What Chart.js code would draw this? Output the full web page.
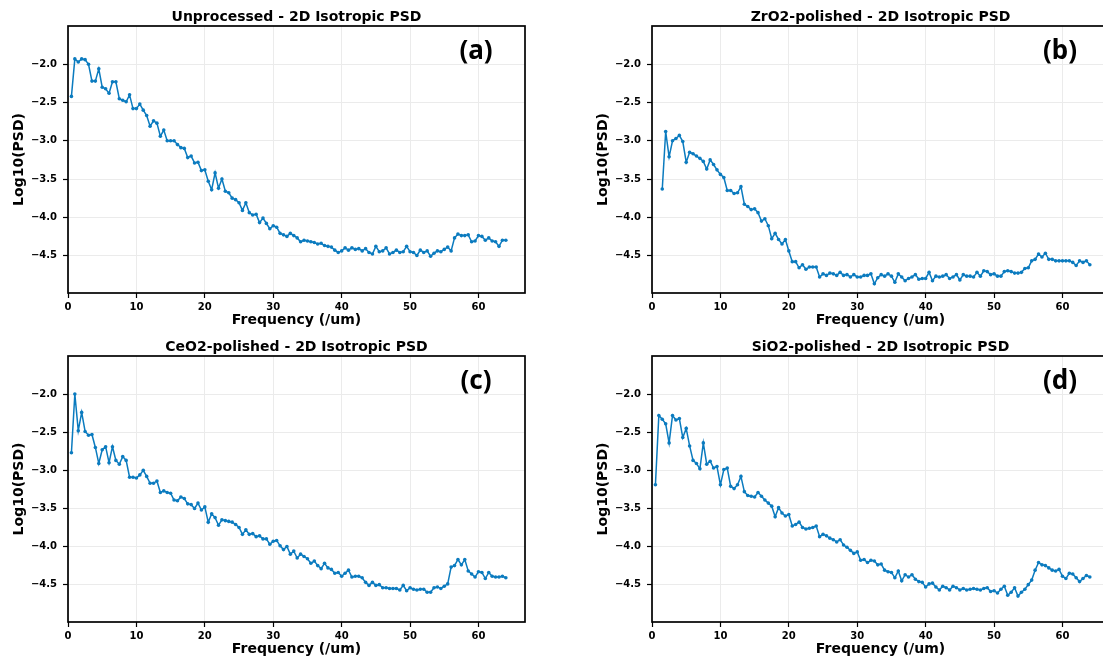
<!DOCTYPE html>
<html>
<head>
<meta charset="utf-8">
<script src="https://cdn.jsdelivr.net/npm/chart.js@4.4.0/dist/chart.umd.min.js"></script>
<style>
  html, body { margin: 0; padding: 0; background: #fff; width: 1103px; height: 661px; overflow: hidden; position: relative; }
  canvas { position: absolute; }
</style>
</head>
<body>
<canvas id="pa" width="560" height="335" style="left:0px;top:0px"></canvas>
<canvas id="pb" width="560" height="335" style="left:584px;top:0px"></canvas>
<canvas id="pc" width="560" height="331" style="left:0px;top:330px"></canvas>
<canvas id="pd" width="560" height="331" style="left:584px;top:330px"></canvas>
<script>
// spatial frequency (/um)
const freq = [
  0.5, 1.0, 1.5, 2.0, 2.5, 3.0, 3.5, 4.0, 4.5, 5.0, 5.5, 6.0, 6.5, 7.0, 7.5, 8.0,
  8.5, 9.0, 9.5, 10.0, 10.5, 11.0, 11.5, 12.0, 12.5, 13.0, 13.5, 14.0, 14.5, 15.0, 15.5, 16.0,
  16.5, 17.0, 17.5, 18.0, 18.5, 19.0, 19.5, 20.0, 20.5, 21.0, 21.5, 22.0, 22.5, 23.0, 23.5, 24.0,
  24.5, 25.0, 25.5, 26.0, 26.5, 27.0, 27.5, 28.0, 28.5, 29.0, 29.5, 30.0, 30.5, 31.0, 31.5, 32.0,
  32.5, 33.0, 33.5, 34.0, 34.5, 35.0, 35.5, 36.0, 36.5, 37.0, 37.5, 38.0, 38.5, 39.0, 39.5, 40.0,
  40.5, 41.0, 41.5, 42.0, 42.5, 43.0, 43.5, 44.0, 44.5, 45.0, 45.5, 46.0, 46.5, 47.0, 47.5, 48.0,
  48.5, 49.0, 49.5, 50.0, 50.5, 51.0, 51.5, 52.0, 52.5, 53.0, 53.5, 54.0, 54.5, 55.0, 55.5, 56.0,
  56.5, 57.0, 57.5, 58.0, 58.5, 59.0, 59.5, 60.0, 60.5, 61.0, 61.5, 62.0, 62.5, 63.0, 63.5, 64.0
];

// log10(PSD) per sample
const psdUnprocessed = [
  -2.42, -1.93, -1.97, -1.93, -1.94, -2.00, -2.22, -2.22, -2.06, -2.30,
  -2.32, -2.38, -2.23, -2.23, -2.45, -2.47, -2.49, -2.40, -2.58, -2.58,
  -2.52, -2.60, -2.67, -2.81, -2.74, -2.77, -2.94, -2.86, -3.00, -3.00,
  -3.00, -3.05, -3.09, -3.10, -3.22, -3.20, -3.29, -3.28, -3.39, -3.38,
  -3.53, -3.64, -3.42, -3.62, -3.50, -3.66, -3.68, -3.75, -3.77, -3.81,
  -3.91, -3.81, -3.94, -3.97, -3.96, -4.07, -4.01, -4.08, -4.15, -4.11,
  -4.13,
  -4.21, -4.23, -4.25, -4.21, -4.24, -4.27, -4.32, -4.30, -4.31, -4.32,
  -4.33, -4.35, -4.34, -4.37, -4.38, -4.39, -4.43, -4.46, -4.44, -4.40,
  -4.43, -4.40, -4.42, -4.41, -4.44, -4.41, -4.46, -4.48, -4.38, -4.45,
  -4.44, -4.40, -4.48, -4.46, -4.43, -4.46, -4.45, -4.38, -4.45, -4.46,
  -4.50, -4.43, -4.46, -4.44, -4.51, -4.47, -4.44, -4.45, -4.42, -4.39,
  -4.44, -4.27, -4.22, -4.24, -4.24, -4.23, -4.32, -4.31, -4.24, -4.25,
  -4.30, -4.27, -4.31, -4.32, -4.38, -4.30, -4.30
];
const psdZrO2 = [
  null, null,
  -3.63, -2.88, -3.21, -3.00, -2.97, -2.93, -3.01, -3.28, -3.15, -3.17,
  -3.20, -3.23, -3.27, -3.37, -3.25, -3.31, -3.38, -3.44, -3.48, -3.65,
  -3.65, -3.69, -3.68, -3.60, -3.83, -3.86, -3.90, -3.89, -3.94, -4.05,
  -4.02, -4.11, -4.28, -4.21, -4.29, -4.35, -4.29, -4.44, -4.58, -4.58,
  -4.66, -4.62, -4.68, -4.65, -4.65, -4.65, -4.78, -4.74, -4.76, -4.73,
  -4.74, -4.76, -4.72, -4.76, -4.75, -4.78, -4.75, -4.78, -4.78, -4.76,
  -4.76, -4.74, -4.87, -4.79,
  -4.75, -4.77, -4.74, -4.77, -4.85, -4.74, -4.78, -4.83, -4.80, -4.78,
  -4.75, -4.81, -4.80, -4.80, -4.72, -4.83, -4.77, -4.78, -4.77, -4.75,
  -4.80, -4.78, -4.75, -4.82, -4.75, -4.77, -4.77, -4.78, -4.72, -4.77,
  -4.70, -4.71, -4.75, -4.74, -4.77, -4.77, -4.71, -4.70, -4.71, -4.73,
  -4.73, -4.72, -4.67, -4.66, -4.57, -4.55, -4.48, -4.52, -4.47, -4.55,
  -4.55, -4.57, -4.57, -4.57, -4.57, -4.57, -4.59, -4.63, -4.57, -4.59,
  -4.57, -4.62
];
const psdCeO2 = [
  -2.77, -2.00, -2.48, -2.24, -2.49, -2.54, -2.53, -2.70, -2.91, -2.73,
  -2.69, -2.90, -2.69, -2.87, -2.92, -2.82, -2.87, -3.09, -3.09, -3.10,
  -3.06, -3.00, -3.08, -3.17, -3.17, -3.14, -3.29, -3.27, -3.29, -3.30,
  -3.39, -3.40, -3.35, -3.37, -3.44, -3.45, -3.50, -3.43, -3.52, -3.48,
  -3.68, -3.57, -3.62, -3.72, -3.65, -3.66, -3.67, -3.68, -3.71, -3.75,
  -3.84, -3.78, -3.84, -3.83, -3.87, -3.86, -3.90, -3.90, -3.97, -3.93,
  -3.92, -3.99, -4.04, -4.00, -4.10, -4.06, -4.15, -4.10,
  -4.13, -4.16, -4.22, -4.19, -4.25, -4.29, -4.22, -4.28, -4.30, -4.35,
  -4.34, -4.39, -4.35, -4.31, -4.40, -4.39, -4.39, -4.41, -4.47, -4.51,
  -4.47, -4.51, -4.50, -4.54, -4.54, -4.55, -4.55, -4.55, -4.57, -4.51,
  -4.58, -4.54, -4.56, -4.57, -4.56, -4.56, -4.60, -4.60, -4.54, -4.53,
  -4.55, -4.52, -4.49, -4.27, -4.25, -4.17, -4.24, -4.17, -4.32, -4.36,
  -4.40, -4.33, -4.34, -4.42, -4.34, -4.39, -4.40, -4.40, -4.39, -4.41
];
const psdSiO2 = [
  -3.19, -2.28, -2.33, -2.39, -2.64, -2.28, -2.34, -2.32, -2.57, -2.45,
  -2.68, -2.87, -2.91, -2.98, -2.64, -2.92, -2.88, -2.97, -2.95, -3.19,
  -2.99, -2.97, -3.21, -3.24, -3.19, -3.08, -3.28, -3.33, -3.34, -3.35,
  -3.29, -3.34, -3.39, -3.43, -3.47, -3.61, -3.49, -3.56, -3.60, -3.58,
  -3.73, -3.71, -3.68, -3.75, -3.77, -3.76, -3.75, -3.73, -3.87, -3.84,
  -3.86, -3.89, -3.91, -3.94, -3.91, -3.98, -4.01, -4.05, -4.09, -4.07,
  -4.18, -4.17, -4.21, -4.18, -4.19, -4.24,
  -4.23, -4.31, -4.33, -4.34, -4.41, -4.32, -4.45, -4.37, -4.40, -4.37,
  -4.43, -4.46, -4.47, -4.53, -4.49, -4.48, -4.53, -4.57, -4.52, -4.54,
  -4.57, -4.52, -4.54, -4.57, -4.55, -4.57, -4.56, -4.55, -4.56, -4.57,
  -4.55, -4.54, -4.59, -4.58, -4.61, -4.56, -4.52, -4.64, -4.60, -4.54,
  -4.65, -4.60, -4.56, -4.50, -4.44, -4.31, -4.21, -4.24, -4.25, -4.28,
  -4.31, -4.32, -4.30, -4.39, -4.42, -4.35, -4.36, -4.41, -4.46, -4.42,
  -4.38, -4.40
];

const xTicks = [0, 10, 20, 30, 40, 50, 60];
const yTicks = [-4.5, -4.0, -3.5, -3.0, -2.5, -2.0];

const panels = [
  { id: 'pa', title: 'Unprocessed - 2D Isotropic PSD', tag: '(a)', values: psdUnprocessed, xAxisH: 42, xTitlePad: 6 },
  { id: 'pb', title: 'ZrO2-polished - 2D Isotropic PSD', tag: '(b)', values: psdZrO2, xAxisH: 42, xTitlePad: 6 },
  { id: 'pc', title: 'CeO2-polished - 2D Isotropic PSD', tag: '(c)', values: psdCeO2, xAxisH: 39, xTitlePad: 3 },
  { id: 'pd', title: 'SiO2-polished - 2D Isotropic PSD', tag: '(d)', values: psdSiO2, xAxisH: 39, xTitlePad: 3 }
];

const lineColor = '#0b7bbf';
const gridColor = '#ebebeb';
const tickFont = { family: 'DejaVu Sans', size: 10, weight: 'bold' };
const labelFont = { family: 'DejaVu Sans', size: 14, weight: 'bold' };

const fmt = v => (v < 0 ? '\u2212' : '') + Math.abs(v).toFixed(1);

// frame, panel title and the (a)/(b)/... tag
const framePlugin = {
  id: 'frame',
  afterDraw(chart, args, opts) {
    const { ctx, chartArea: a } = chart;
    ctx.save();
    ctx.strokeStyle = '#000';
    ctx.lineWidth = 1.7;
    ctx.strokeRect(a.left, a.top, a.right - a.left, a.bottom - a.top);
    ctx.fillStyle = '#000';
    ctx.textAlign = 'center';
    ctx.textBaseline = 'middle';
    ctx.font = 'bold 14px "DejaVu Sans"';
    ctx.fillText(opts.title, (a.left + a.right) / 2, a.top - 9);
    ctx.font = 'bold 26px "Noto Sans"';
    ctx.fillText(opts.tag, a.left + 408, a.top + 26);
    ctx.restore();
  }
};

panels.forEach(p => {
  new Chart(document.getElementById(p.id), {
    type: 'line',
    data: {
      datasets: [{
        data: freq.map((f, i) => ({ x: f, y: p.values[i] })),
        borderColor: lineColor,
        backgroundColor: lineColor,
        borderWidth: 1.5,
        pointRadius: 1.8,
        pointBorderWidth: 0,
        pointBackgroundColor: lineColor,
        tension: 0,
        fill: false
      }]
    },
    options: {
      responsive: false,
      animation: false,
      devicePixelRatio: 1,
      layout: { padding: { left: 0, right: 35, top: 26, bottom: 0 } },
      plugins: {
        legend: { display: false },
        tooltip: { enabled: false },
        frame: { title: p.title, tag: p.tag }
      },
      scales: {
        x: {
          type: 'linear',
          min: 0,
          max: 66.8,
          afterBuildTicks: s => { s.ticks = xTicks.map(v => ({ value: v })); },
          afterFit: s => { s.height = p.xAxisH; },
          ticks: { font: tickFont, color: '#000', padding: 3, maxRotation: 0 },
          grid: { color: gridColor, lineWidth: 1, tickColor: '#000', tickLength: 5, tickWidth: 1.2 },
          border: { display: false },
          title: { display: true, text: 'Frequency (/um)', font: labelFont, color: '#000', padding: { top: 0, bottom: p.xTitlePad } }
        },
        y: {
          type: 'linear',
          min: -4.99,
          max: -1.50,
          afterBuildTicks: s => { s.ticks = yTicks.map(v => ({ value: v })); },
          afterFit: s => { s.width = 68; },
          ticks: { font: tickFont, color: '#000', padding: 6, callback: v => fmt(v) },
          grid: { color: gridColor, lineWidth: 1, tickColor: '#000', tickLength: 5, tickWidth: 1.2 },
          border: { display: false },
          title: { display: true, text: 'Log10(PSD)', font: labelFont, color: '#000', padding: { top: 11, bottom: 0 } }
        }
      }
    },
    plugins: [framePlugin]
  });
});
</script>
</body>
</html>
